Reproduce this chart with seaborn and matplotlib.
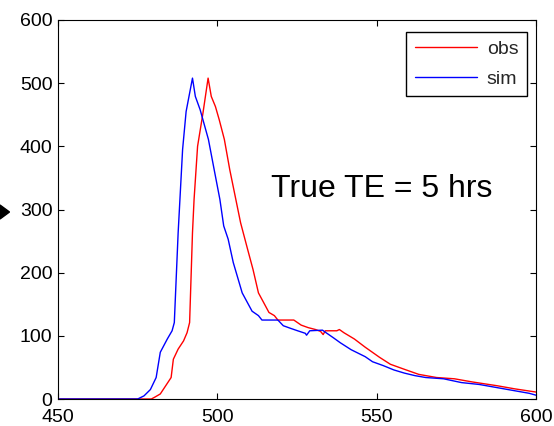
import numpy as np
import pandas as pd
import seaborn as sns
import matplotlib
matplotlib.use("Agg")
import matplotlib.pyplot as plt
from matplotlib.patches import Polygon

# --- data ---
sim_x = [450, 475, 477, 479, 480.8, 482.1, 484.3, 485.8, 486.5, 487.7, 489.1, 490.2, 492.2,
         493.1, 494.6, 497.2, 499.2, 500.8, 502, 503.4, 505, 507.8, 510.9, 512.9, 514,
         519, 520.7, 522.9, 525.2, 527.6, 528, 529, 533, 534.1, 536.4, 538.6, 542, 546.4,
         548.7, 552, 555.4, 558.7, 562, 565.4, 571, 576.6, 582.2, 587.8, 593.4, 597.9, 600]
sim_y = [0, 0, 5, 15, 34, 74, 95, 108, 121, 263, 395, 455, 508,
         479, 458, 411, 358, 316, 274, 253, 216, 168, 139, 132, 125,
         125, 116, 112, 108, 104, 101, 108, 109, 105, 97, 89, 78, 67,
         59, 53, 46, 41, 37, 34, 32, 26, 23, 18, 13, 9, 6]
obs_x = [450, 479.3, 480.4, 482.1, 483.8, 485.5, 486.2, 487.7, 489.4, 490.5, 491.3, 492.2,
         492.7, 493.8, 495.5, 497.1, 498.1, 499.4, 500.6, 502.2, 503.9, 505.6, 507.3,
         509.5, 511.2, 512.9, 514.5, 516.2, 517.9, 519, 524, 526.3, 528.5, 530.8, 532.4,
         533.2, 533.9, 537.5, 538.3, 539.7, 543, 546.4, 550.9, 554.3, 558.7, 563.2,
         568.8, 574.4, 580, 587.8, 593.4, 600]
obs_y = [0, 0, 3, 8, 21, 34, 63, 79, 92, 105, 121, 263,
         316, 400, 453, 508, 479, 463, 442, 411, 363, 321, 279,
         237, 205, 168, 153, 137, 132, 125, 125, 117, 113, 110, 107,
         102, 108, 108, 110, 105, 95, 82, 66, 55, 47, 39,
         34, 32, 27, 21, 16, 11]
series_names = ["obs", "sim"]
series_colors = ["#ff0000", "#0000ff"]
x_ticks = [450, 500, 550, 600]
y_ticks = [0, 100, 200, 300, 400, 500, 600]
annotation = "True TE = 5 hrs"

df = pd.concat([
    pd.DataFrame({"x": obs_x, "y": obs_y, "series": "obs"}),
    pd.DataFrame({"x": sim_x, "y": sim_y, "series": "sim"}),
], ignore_index=True)

sns.set_style("white")
plt.rcParams["font.family"] = ["Liberation Sans", "DejaVu Sans"]

W, H = 554, 426
fig = plt.figure(figsize=(W / 100, H / 100), dpi=100)
ax = fig.add_axes([58 / W, 1 - 399 / H, (536 - 58) / W, (399 - 20) / H])

sns.lineplot(data=df, x="x", y="y", hue="series", hue_order=series_names,
             palette=dict(zip(series_names, series_colors)), ax=ax,
             linewidth=1.0, estimator=None, sort=False)

ax.set_xlim(450, 600)
ax.set_ylim(0, 600)
ax.set_xticks(x_ticks)
ax.set_yticks(y_ticks)
ax.set_xlabel("")
ax.set_ylabel("")
ax.tick_params(direction="in", length=4, width=0.8, top=True, right=True,
               bottom=True, left=True, labelsize=14, colors="black")
ax.tick_params(axis="x", pad=7.5)
ax.tick_params(axis="y", pad=4)
for s in ax.spines.values():
    s.set_color("black")
    s.set_linewidth(0.8)
    s.set_visible(True)

leg = ax.legend(loc="upper right", fontsize=14, frameon=True, fancybox=False,
                edgecolor="black", framealpha=1, handlelength=3.2, handletextpad=0.5,
                borderpad=0.44, labelspacing=0.62, bbox_to_anchor=(527 / W, 1 - 32 / H),
                bbox_transform=fig.transFigure, borderaxespad=0)
leg.get_frame().set_linewidth(1.0)

ax.text(516.9, 320, annotation, fontsize=23, va="baseline", ha="left", color="black")

tri = Polygon([(0, 1 - 205 / H), (9.5 / W, 1 - 212 / H), (0, 1 - 219 / H)],
              closed=True, transform=fig.transFigure, color="black")
fig.patches.append(tri)

fig.savefig("out.png", dpi=100)
